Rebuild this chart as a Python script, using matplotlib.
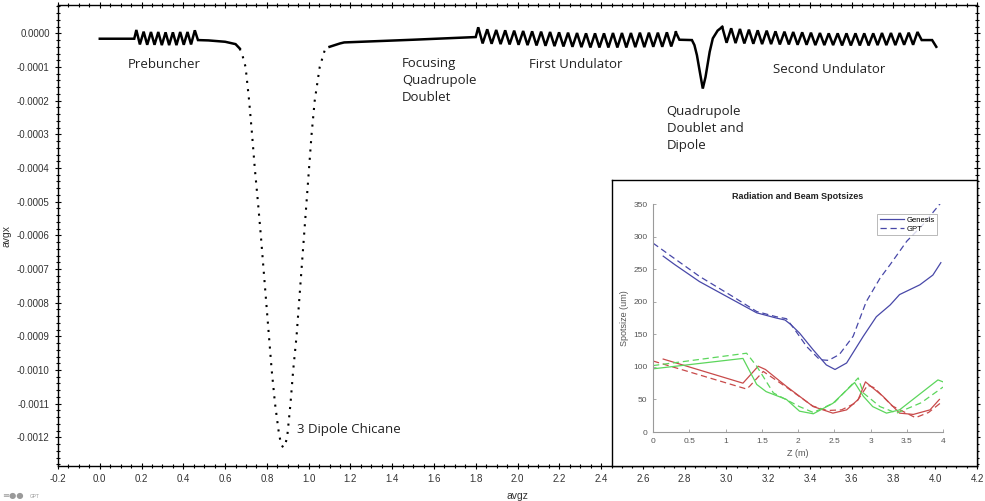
import numpy as np
import matplotlib
matplotlib.use("Agg")
import matplotlib.pyplot as plt
from matplotlib.ticker import AutoMinorLocator, FormatStrFormatter

# --- SECTION 1: MAIN TRACE DATA (avgx vs avgz) ---
# drift + prebuncher
pre_z = [0.000, 0.165, 0.175, 0.192, 0.210, 0.227, 0.245, 0.262, 0.280, 0.297, 0.315,
         0.332, 0.350, 0.367, 0.385, 0.402, 0.420, 0.437, 0.455, 0.470, 0.520, 0.600,
         0.650, 0.670]
pre_x = [-1.6e-5, -1.6e-5, 1.0e-5, -3.3e-5, 0.5e-5, -3.4e-5, 0.4e-5, -3.4e-5, 0.4e-5,
         -3.5e-5, 0.3e-5, -3.5e-5, 0.3e-5, -3.5e-5, 0.4e-5, -3.4e-5, 0.4e-5, -3.3e-5,
         0.9e-5, -2.0e-5, -2.1e-5, -2.5e-5, -3.2e-5, -4.5e-5]

# 3 dipole chicane (sparse points, drawn dotted)
chic_z = [0.670, 0.685, 0.698, 0.715, 0.729, 0.742, 0.757, 0.771, 0.784, 0.797, 0.810,
          0.823, 0.839, 0.858, 0.868, 0.878, 0.888, 0.897, 0.913, 0.926, 0.942, 0.954,
          0.966, 0.978, 0.990, 1.002, 1.014, 1.029, 1.053, 1.077, 1.100]
chic_x = [-4.5e-5, -7.0e-5, -1.0e-4, -2.0e-4, -3.0e-4, -4.0e-4, -5.0e-4, -6.0e-4,
          -7.0e-4, -8.0e-4, -9.0e-4, -1.0e-3, -1.1e-3, -1.19e-3, -1.22e-3, -1.23e-3,
          -1.22e-3, -1.20e-3, -1.1e-3, -1.0e-3, -9.0e-4, -8.0e-4, -7.0e-4, -6.0e-4,
          -5.0e-4, -4.0e-4, -3.0e-4, -2.0e-4, -1.0e-4, -5.0e-5, -4.0e-5]

# drift + first undulator
und1_z = [1.100, 1.150, 1.170, 1.500, 1.800, 1.812, 1.833, 1.855, 1.876, 1.898, 1.919,
          1.941, 1.962, 1.984, 2.005, 2.027, 2.048, 2.070, 2.091, 2.113, 2.134, 2.156,
          2.177, 2.199, 2.220, 2.242, 2.263, 2.285, 2.306, 2.328, 2.349, 2.371, 2.392,
          2.414, 2.435, 2.457, 2.478, 2.500, 2.521, 2.543, 2.564, 2.586, 2.607, 2.629,
          2.650, 2.672, 2.693, 2.715, 2.736, 2.758]
und1_x = [-4.0e-5, -3.0e-5, -2.7e-5, -1.9e-5, -1.1e-5, 1.8e-5, -3.0e-5, 1.2e-5, -3.1e-5,
          1.0e-5, -3.2e-5, 0.9e-5, -3.3e-5, 0.8e-5, -3.4e-5, 0.7e-5, -3.5e-5, 0.6e-5,
          -3.6e-5, 0.5e-5, -3.7e-5, 0.4e-5, -3.8e-5, 0.3e-5, -3.9e-5, 0.2e-5, -4.0e-5,
          0.1e-5, -4.1e-5, 0.0e-5, -4.2e-5, 0.0e-5, -4.2e-5, 0.0e-5, -4.2e-5, 0.1e-5,
          -4.2e-5, 0.1e-5, -4.2e-5, 0.1e-5, -4.1e-5, 0.2e-5, -4.1e-5, 0.2e-5, -4.0e-5,
          0.2e-5, -4.0e-5, 0.3e-5, -3.9e-5, 0.3e-5]

# quadrupole doublet and dipole
dip_z = [2.758, 2.775, 2.835, 2.847, 2.859, 2.873, 2.887, 2.900, 2.920, 2.935, 2.958,
         2.980]
dip_x = [0.3e-5, -1.9e-5, -2.0e-5, -3.5e-5, -6.5e-5, -1.15e-4, -1.64e-4, -1.30e-4,
         -5.5e-5, -1.5e-5, 0.8e-5, 1.9e-5]

# second undulator + end drift
und2_z = [2.980, 3.001, 3.023, 3.044, 3.065, 3.086, 3.108, 3.129, 3.150, 3.171, 3.193,
          3.214, 3.235, 3.256, 3.278, 3.299, 3.320, 3.341, 3.363, 3.384, 3.405, 3.426,
          3.448, 3.469, 3.490, 3.511, 3.533, 3.554, 3.575, 3.596, 3.618, 3.639, 3.660,
          3.681, 3.703, 3.724, 3.745, 3.766, 3.788, 3.809, 3.830, 3.851, 3.873, 3.894,
          3.915, 3.935, 3.985, 4.005]
und2_x = [1.9e-5, -2.8e-5, 1.5e-5, -2.9e-5, 1.3e-5, -3.0e-5, 1.1e-5, -3.1e-5, 0.9e-5,
          -3.2e-5, 0.8e-5, -3.2e-5, 0.6e-5, -3.3e-5, 0.5e-5, -3.3e-5, 0.4e-5, -3.4e-5,
          0.3e-5, -3.4e-5, 0.2e-5, -3.5e-5, 0.1e-5, -3.5e-5, 0.0e-5, -3.5e-5, 0.0e-5,
          -3.6e-5, 0.0e-5, -3.6e-5, 0.0e-5, -3.6e-5, 0.0e-5, -3.6e-5, 0.0e-5, -3.5e-5,
          0.1e-5, -3.5e-5, 0.1e-5, -3.5e-5, 0.1e-5, -3.4e-5, 0.2e-5, -3.4e-5, 0.4e-5,
          -2.0e-5, -2.0e-5, -4.0e-5]

# section labels: (text, z, avgx)
section_labels = [
    ("Prebuncher", 0.135, -0.94e-4),
    ("Focusing\nQuadrupole\nDoublet", 1.448, -1.39e-4),
    ("First Undulator", 2.056, -0.94e-4),
    ("Quadrupole\nDoublet and\nDipole", 2.714, -2.84e-4),
    ("Second Undulator", 3.224, -1.07e-4),
    ("3 Dipole Chicane", 0.942, -1.178e-3),
]

x_ticks = np.arange(-2, 43, 2) / 10
y_ticks = np.arange(-12, 1) * 1e-4

# --- SECTION 2: INSET DATA (spotsize in um vs Z in m) ---
blue_gen_z = [0.14, 0.30, 0.64, 1.10, 1.43, 1.70, 1.82, 1.90, 2.02, 2.21, 2.39, 2.51,
              2.67, 2.90, 3.08, 3.27, 3.40, 3.68, 3.86, 3.97]
blue_gen = [270, 257, 231, 203, 183, 175, 172, 165, 152, 126, 103, 96, 106, 147, 177,
            195, 211, 226, 241, 260]
blue_gpt_z = [0.00, 0.30, 0.64, 1.10, 1.43, 1.70, 1.84, 1.95, 2.12, 2.30, 2.42, 2.57,
              2.76, 2.94, 3.13, 3.27, 3.50, 3.72, 3.97]
blue_gpt = [290, 266, 239, 208, 185, 177, 174, 158, 131, 111, 110, 119, 147, 200, 236,
            257, 293, 318, 352]

red_gen_z = [0.14, 1.24, 1.45, 1.55, 1.84, 2.21, 2.48, 2.67, 2.83, 2.93, 3.17, 3.40,
             3.59, 3.82, 3.95]
red_gen = [112, 75, 101, 96, 70, 39, 29, 34, 50, 77, 55, 29, 27, 34, 50]
red_gpt_z = [0.00, 1.29, 1.33, 1.52, 1.85, 2.20, 2.40, 2.60, 2.80, 2.96, 3.05, 3.30,
             3.62, 3.80, 3.97]
red_gpt = [109, 66, 70, 93, 68, 40, 33, 34, 45, 72, 68, 40, 22, 30, 45]

green_gen_z = [0.00, 1.24, 1.43, 1.56, 1.84, 2.02, 2.21, 2.48, 2.78, 2.90, 3.03, 3.22,
               3.40, 3.93, 4.00]
green_gen = [97, 113, 73, 62, 50, 32, 28, 44, 76, 55, 39, 29, 34, 80, 77]
green_gpt_z = [0.00, 1.29, 1.43, 1.66, 2.02, 2.21, 2.50, 2.83, 2.90, 3.13, 3.36, 3.70,
               4.00]
green_gpt = [102, 121, 101, 60, 39, 30, 45, 83, 60, 39, 29, 45, 69]

# --- SECTION 3: PLOTTING ---
plt.rcParams["axes.unicode_minus"] = False
plt.rcParams["font.family"] = ["Liberation Sans", "DejaVu Sans"]

fig = plt.figure(figsize=(9.85, 5.01), dpi=100)
ax = fig.add_axes([0.0589, 0.0699, 0.933, 0.920])

solid = dict(color="black", lw=1.8, solid_joinstyle="miter")
ax.plot(pre_z, pre_x, **solid)
ax.plot(chic_z, chic_x, color="black", lw=1.5, linestyle=(0, (1.0, 3.0)))
ax.plot(und1_z, und1_x, **solid)
ax.plot(dip_z, dip_x, **solid)
ax.plot(und2_z, und2_x, **solid)

for txt, z, x in section_labels:
    ax.text(z, x, txt, fontsize=9.5, family=["Open Sans", "DejaVu Sans"],
            color="#222222", ha="left", va="center", linespacing=1.4)

ax.set_xlim(-0.2, 4.2)
ax.set_ylim(-0.001285, 0.000084)
ax.set_xticks(x_ticks)
ax.set_yticks(y_ticks)
ax.xaxis.set_major_formatter(FormatStrFormatter("%.1f"))
ax.yaxis.set_major_formatter(FormatStrFormatter("%.4f"))
ax.xaxis.set_minor_locator(AutoMinorLocator(4))
ax.yaxis.set_minor_locator(AutoMinorLocator(5))
ax.tick_params(which="both", direction="inout", top=True, right=True,
               labelsize=7, labelcolor="#333333", width=0.8)
ax.tick_params(which="major", length=5)
ax.tick_params(which="minor", length=3)
for s in ax.spines.values():
    s.set_linewidth(1.0)
ax.set_xlabel("avgz", fontsize=7.5, color="#333333", labelpad=5)
ax.set_ylabel("avgx", fontsize=7.5, color="#333333", labelpad=4)

# GPT logo mark
fig.text(0.002, 0.006, "\u2261\u25cf\u25cf", fontsize=6, color="#9a9a9a",
         family="DejaVu Sans")
fig.text(0.030, 0.006, "GPT", fontsize=3.5, color="#9a9a9a")

# --- SECTION 4: INSET (pasted spotsize figure) ---
frame = fig.add_axes([0.6213, 0.0699, 0.3706, 0.5708])
frame.set_facecolor("white")
frame.set_xticks([])
frame.set_yticks([])
for s in frame.spines.values():
    s.set_linewidth(1.0)
    s.set_color("black")

ins = fig.add_axes([0.663, 0.1377, 0.2944, 0.455])
ins.patch.set_alpha(0)
c_blue, c_red, c_green = "#4848a8", "#c84a4a", "#5cd65c"
dash = (0, (5, 3))
ins.plot(blue_gen_z, blue_gen, color=c_blue, lw=0.9, label="Genesis")
ins.plot(blue_gpt_z, blue_gpt, color=c_blue, lw=0.9, linestyle=dash, label="GPT")
ins.plot(red_gen_z, red_gen, color=c_red, lw=0.9)
ins.plot(red_gpt_z, red_gpt, color=c_red, lw=0.9, linestyle=dash)
ins.plot(green_gen_z, green_gen, color=c_green, lw=0.9)
ins.plot(green_gpt_z, green_gpt, color=c_green, lw=0.9, linestyle=dash)

ins.set_xlim(0, 4)
ins.set_ylim(0, 350)
ins.set_xticks([0, 0.5, 1, 1.5, 2, 2.5, 3, 3.5, 4])
ins.set_xticklabels(["0", "0.5", "1", "1.5", "2", "2.5", "3", "3.5", "4"])
ins.set_yticks(np.arange(0, 351, 50))
ins.spines["top"].set_visible(False)
ins.spines["right"].set_visible(False)
for side in ("left", "bottom"):
    ins.spines[side].set_color("#9a9a9a")
    ins.spines[side].set_linewidth(0.8)
ins.tick_params(direction="in", length=2.5, width=0.6, color="#9a9a9a",
                labelsize=6, labelcolor="#555555", pad=4)
ins.set_title("Radiation and Beam Spotsizes", fontsize=6.5, fontweight="bold",
              color="#222222", pad=4)
ins.set_xlabel("Z (m)", fontsize=6.5, color="#555555", labelpad=3)
ins.set_ylabel("Spotsize (um)", fontsize=6.5, color="#555555", labelpad=3)
leg = ins.legend(loc="upper right", bbox_to_anchor=(0.979, 0.956), borderaxespad=0,
                 fontsize=5.5, fancybox=False, handlelength=3.2, handletextpad=0.3,
                 borderpad=0.3, labelspacing=0.2)
leg.get_frame().set_edgecolor("#9a9a9a")
leg.get_frame().set_linewidth(0.6)

fig.savefig("out.png", dpi=100)
